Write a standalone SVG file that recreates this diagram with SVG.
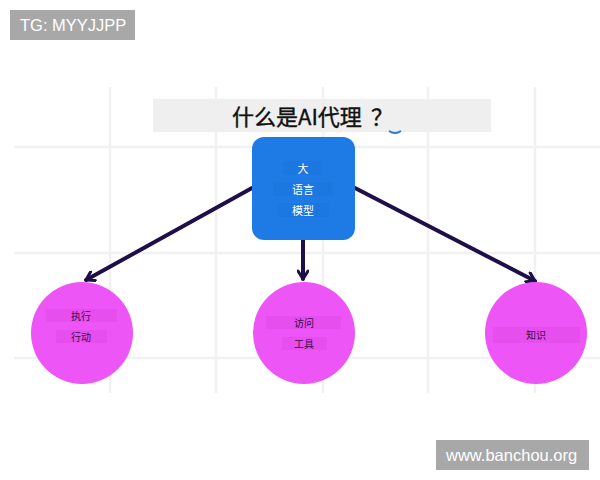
<svg xmlns="http://www.w3.org/2000/svg" width="600" height="480" viewBox="0 0 600 480">
  <defs>
    <style>
      .grid { stroke: #f1f1f1; stroke-width: 2.5; fill: none; }
      .conn { stroke: #1e0f48; stroke-width: 4; fill: none; stroke-linecap: round; }
      .circ { fill: #ee55f6; }
      .clabel { font-family: "Noto Sans CJK SC", "Noto Sans", sans-serif; font-size: 10px; fill: #3a0c48; text-anchor: middle; }
      .hl { fill: #e64fee; }
      .blabel { font-family: "Noto Sans CJK SC", "Noto Sans", sans-serif; font-size: 11px; fill: #ffffff; text-anchor: middle; }
      .bhl { fill: #1c77e1; }
      .wm { fill: #a8a8a8; }
      .wmt { font-family: "Liberation Sans", Arial, sans-serif; font-size: 16.5px; fill: #ffffff; }
      .ttl { font-family: "Noto Sans CJK SC", "Noto Sans", sans-serif; font-size: 22px; fill: #111111; stroke: #111111; stroke-width: 0.4; }
    </style>
    <marker id="arrow" viewBox="0 0 12 12" refX="10" refY="6" markerWidth="12" markerHeight="12" markerUnits="userSpaceOnUse" orient="auto">
      <polyline points="2,1 10,6 2,11" fill="none" stroke="#1e0f48" stroke-width="3" stroke-linejoin="round" stroke-linecap="round"/>
    </marker>
  </defs>
  <rect width="600" height="480" fill="#ffffff"/>
  <g id="grid">
    <line class="grid" x1="110" y1="87" x2="110" y2="393"/>
    <line class="grid" x1="216" y1="87" x2="216" y2="393"/>
    <line class="grid" x1="323" y1="87" x2="323" y2="393"/>
    <line class="grid" x1="428" y1="87" x2="428" y2="393"/>
    <line class="grid" x1="535" y1="87" x2="535" y2="393"/>
    <line class="grid" x1="14" y1="147" x2="600" y2="147"/>
    <line class="grid" x1="14" y1="253" x2="600" y2="253"/>
    <line class="grid" x1="14" y1="358" x2="600" y2="358"/>
  </g>
  <g id="title">
    <rect x="153" y="99" width="338" height="33" fill="#efefef"/>
    <text x="232" y="125" class="ttl">什么是AI代理</text>
    <text x="382" y="125" class="ttl" text-anchor="middle">？</text>
    <path d="M389,131 Q395,135 401,131" stroke="#2a7be0" stroke-width="2" fill="none"/>
  </g>
  <g id="connectors">
    <line class="conn" x1="252" y1="188" x2="86" y2="280" marker-end="url(#arrow)"/>
    <line class="conn" x1="303" y1="240" x2="303" y2="279" marker-end="url(#arrow)"/>
    <line class="conn" x1="355" y1="188" x2="535" y2="281" marker-end="url(#arrow)"/>
  </g>
  <g id="llm">
    <rect x="252" y="137" width="103" height="103" rx="12" fill="#1e7be6"/>
    <rect x="283" y="161" width="40" height="14" class="bhl"/>
    <rect x="273" y="182" width="60" height="14" class="bhl"/>
    <rect x="277" y="203" width="52" height="14" class="bhl"/>
    <text x="303" y="173" class="blabel">大</text>
    <text x="303" y="194" class="blabel">语言</text>
    <text x="303" y="215" class="blabel">模型</text>
  </g>
  <g id="action">
    <circle cx="82" cy="333" r="51" class="circ"/>
    <rect x="46" y="309" width="71" height="13" class="hl"/>
    <rect x="56" y="330" width="51" height="13" class="hl"/>
    <text x="81" y="320" class="clabel">执行</text>
    <text x="81" y="341" class="clabel">行动</text>
  </g>
  <g id="tools">
    <circle cx="304" cy="333" r="51" class="circ"/>
    <rect x="266" y="316" width="75" height="13" class="hl"/>
    <rect x="282" y="337" width="45" height="13" class="hl"/>
    <text x="304" y="327" class="clabel">访问</text>
    <text x="304" y="348" class="clabel">工具</text>
  </g>
  <g id="knowledge">
    <circle cx="536" cy="333" r="51" class="circ"/>
    <rect x="493" y="327" width="87" height="16" class="hl"/>
    <text x="536" y="339" class="clabel" font-size="11">知识</text>
  </g>
  <g id="watermarks">
    <rect x="10" y="10" width="125" height="30" class="wm"/>
    <text x="20" y="31" class="wmt">TG: MYYJJPP</text>
    <rect x="436" y="440" width="153" height="30" class="wm"/>
    <text x="446" y="461" class="wmt">www.banchou.org</text>
  </g>
</svg>
